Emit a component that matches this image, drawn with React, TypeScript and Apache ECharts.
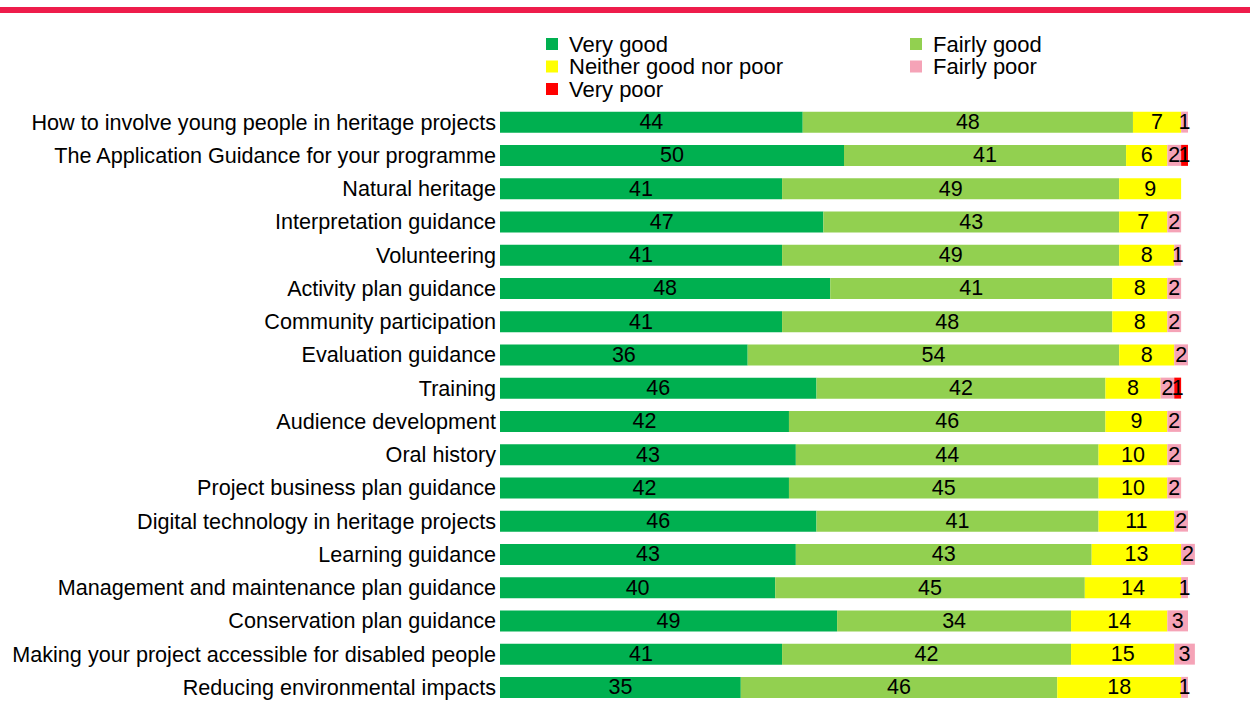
import React, { useEffect, useRef } from "react";
import * as echarts from "echarts";

// Guidance topics, listed top to bottom
const topics = [
  "How to involve young people in heritage projects",
  "The Application Guidance for your programme",
  "Natural heritage",
  "Interpretation guidance",
  "Volunteering",
  "Activity plan guidance",
  "Community participation",
  "Evaluation guidance",
  "Training",
  "Audience development",
  "Oral history",
  "Project business plan guidance",
  "Digital technology in heritage projects",
  "Learning guidance",
  "Management and maintenance plan guidance",
  "Conservation plan guidance",
  "Making your project accessible for disabled people",
  "Reducing environmental impacts",
];

// Percentage of respondents per rating (null = no responses)
const veryGood = [44, 50, 41, 47, 41, 48, 41, 36, 46, 42, 43, 42, 46, 43, 40, 49, 41, 35];
const fairlyGood = [48, 41, 49, 43, 49, 41, 48, 54, 42, 46, 44, 45, 41, 43, 45, 34, 42, 46];
const neither = [7, 6, 9, 7, 8, 8, 8, 8, 8, 9, 10, 10, 11, 13, 14, 14, 15, 18];
const fairlyPoor = [1, 2, null, 2, 1, 2, 2, 2, 2, 2, 2, 2, 2, 2, 1, 3, 3, 1];
const veryPoor = [null, 1, null, null, null, null, null, null, 1, null, null, null, null, null, null, null, null, null];

const FONT = "'Liberation Sans', Arial, sans-serif";

const ratingSeries = [
  { name: "Very good", data: veryGood, color: "#00b050" },
  { name: "Fairly good", data: fairlyGood, color: "#92d050" },
  { name: "Neither good nor poor", data: neither, color: "#ffff00" },
  { name: "Fairly poor", data: fairlyPoor, color: "#f5a3b7" },
  { name: "Very poor", data: veryPoor, color: "#ff0000" },
];

export default function App() {
  const ref = useRef<HTMLDivElement>(null);

  useEffect(() => {
    if (!ref.current) return;
    const chart = echarts.init(ref.current, null, { renderer: "svg" });

    const legendText = {
      fontFamily: FONT,
      fontSize: 22,
      lineHeight: 22,
      color: "#000",
      padding: [0, 0, 0, 6],
    };

    const legendBase = {
      orient: "vertical",
      top: 28,
      itemWidth: 12,
      itemHeight: 12,
      itemGap: 0.5,
      icon: "rect",
      textStyle: legendText,
      selectedMode: false,
    };

    chart.setOption({
      animation: false,
      backgroundColor: "#fff",
      graphic: [
        {
          type: "rect",
          shape: { x: 0, y: 7, width: 1250, height: 6 },
          style: { fill: "#ee1c4b" },
        },
      ],
      legend: [
        { ...legendBase, left: 541, data: ["Very good", "Neither good nor poor", "Very poor"] },
        { ...legendBase, left: 905, data: ["Fairly good", "Fairly poor"] },
      ],
      grid: { left: 500, top: 105.5, width: 688, height: 601, containLabel: false },
      xAxis: {
        type: "value",
        min: 0,
        max: 100,
        show: false,
      },
      yAxis: {
        type: "category",
        inverse: true,
        data: topics,
        axisLine: { show: false },
        axisTick: { show: false },
        axisLabel: { fontFamily: FONT, fontSize: 21.6, color: "#000", margin: 4 },
      },
      series: ratingSeries.map((s) => ({
        type: "bar",
        name: s.name,
        stack: "total",
        data: s.data,
        barWidth: 21,
        clip: false,
        itemStyle: { color: s.color },
        label: {
          show: true,
          position: "inside",
          fontFamily: FONT,
          fontSize: 21.5,
          color: "#000",
          formatter: (p: any) => (p.value == null ? "" : String(p.value)),
        },
        labelLayout: { hideOverlap: false },
      })),
    });

    return () => chart.dispose();
  }, []);

  return (
    <div
      ref={ref}
      style={{ position: "fixed", left: 0, top: 0, width: 1250, height: 704 }}
    />
  );
}
